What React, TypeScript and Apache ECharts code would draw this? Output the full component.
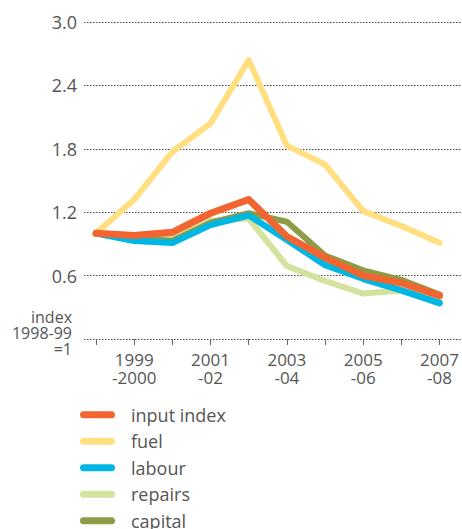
import React, { useEffect, useRef } from "react";
import * as echarts from "echarts";

const categories = ["1998-99", "1999-2000", "2000-01", "2001-02", "2002-03", "2003-04", "2004-05", "2005-06", "2006-07", "2007-08"];
const xTickLabels = ["", "1999\n-2000", "", "2001\n-02", "", "2003\n-04", "", "2005\n-06", "", "2007\n-08"];
const yTicks = [0, 0.6, 1.2, 1.8, 2.4, 3.0];

const inputIndex = [1.0, 0.98, 1.01, 1.19, 1.32, 0.97, 0.77, 0.6, 0.53, 0.41];
const fuel = [1.0, 1.32, 1.77, 2.04, 2.64, 1.83, 1.65, 1.21, 1.07, 0.91];
const labour = [1.0, 0.93, 0.91, 1.08, 1.17, 0.94, 0.7, 0.57, 0.46, 0.34];
const repairs = [1.0, 0.95, 0.95, 1.12, 1.14, 0.69, 0.55, 0.43, 0.46, 0.38];
const capital = [1.0, 0.95, 0.93, 1.1, 1.19, 1.11, 0.79, 0.65, 0.56, 0.42];

const FONT = "'Open Sans', sans-serif";
const TEXT = "#555555";

export default function App() {
  const ref = useRef<HTMLDivElement>(null);
  useEffect(() => {
    if (!ref.current) return;
    const chart = echarts.init(ref.current, undefined, { renderer: "svg" });
    const mk = (name: string, data: number[], color: string, width: number) => ({
      name,
      type: "line",
      xAxisIndex: 1,
      yAxisIndex: 1,
      data,
      symbol: "none",
      color,
      lineStyle: { color, width, cap: "round", join: "round" },
    });
    const pill = "path://M3.5,0 H31.5 A3.5,3.5 0 0 1 31.5,7 H3.5 A3.5,3.5 0 0 1 3.5,0 Z";
    chart.setOption({
      animation: false,
      textStyle: { fontFamily: FONT },
      grid: [
        { left: 84, right: 0, top: 22, bottom: 190 },
        { left: 96, right: 20, top: 22, bottom: 190 },
      ],
      xAxis: [
        { type: "value", gridIndex: 0, show: false, min: 0, max: 1 },
        {
          type: "category",
          gridIndex: 1,
          data: categories,
          boundaryGap: false,
          axisLine: { show: false },
          axisTick: { show: true, interval: 0, length: 6, lineStyle: { color: "#666", width: 1 } },
          axisLabel: {
            interval: (i: number) => i % 2 === 1,
            formatter: (_v: string, i: number) => xTickLabels[i],
            color: TEXT,
            fontSize: 17,
            lineHeight: 18,
            margin: 11,
            fontFamily: FONT,
          },
        },
      ],
      yAxis: [
        {
          type: "value",
          gridIndex: 0,
          min: yTicks[0],
          max: yTicks[yTicks.length - 1],
          interval: 0.6,
          axisLine: { show: false },
          axisTick: { show: false },
          splitLine: { show: true, lineStyle: { color: "#444", width: 1, type: [1.5, 1.5] } },
          axisLabel: {
            margin: 7,
            color: TEXT,
            fontSize: 18,
            fontFamily: FONT,
            formatter: (v: number) =>
              v === 0 ? "{idx|index}\n{idx|1998-99}\n{idx|=1}\n{sp| }" : v.toFixed(1),
            rich: {
              idx: { fontSize: 16, lineHeight: 16, color: TEXT, fontFamily: FONT, padding: [0, 5, 0, 0], align: "right" },
              sp: { fontSize: 6, lineHeight: 12 },
            },
          },
        },
        { type: "value", gridIndex: 1, min: 0, max: 3, show: false },
      ],
      legend: {
        orient: "vertical",
        left: 80,
        top: 405.7,
        height: 140,
        padding: 0,
        itemWidth: 35,
        itemHeight: 7,
        itemGap: 8.5,
        icon: pill,
        data: ["input index", "fuel", "labour", "repairs", "capital"],
        textStyle: { color: TEXT, fontSize: 18, fontFamily: FONT, padding: [0, 0, 0, 11] },
      },
      series: [
        mk("fuel", fuel, "#FFDF80", 6),
        mk("repairs", repairs, "#D3E39D", 6),
        mk("capital", capital, "#8E9B47", 6),
        mk("labour", labour, "#00B6E3", 6.5),
        mk("input index", inputIndex, "#F26531", 7),
      ],
    });
    return () => chart.dispose();
  }, []);
  return <div ref={ref} style={{ width: 462, height: 529, position: "absolute", left: 0, top: 0 }} />;
}
